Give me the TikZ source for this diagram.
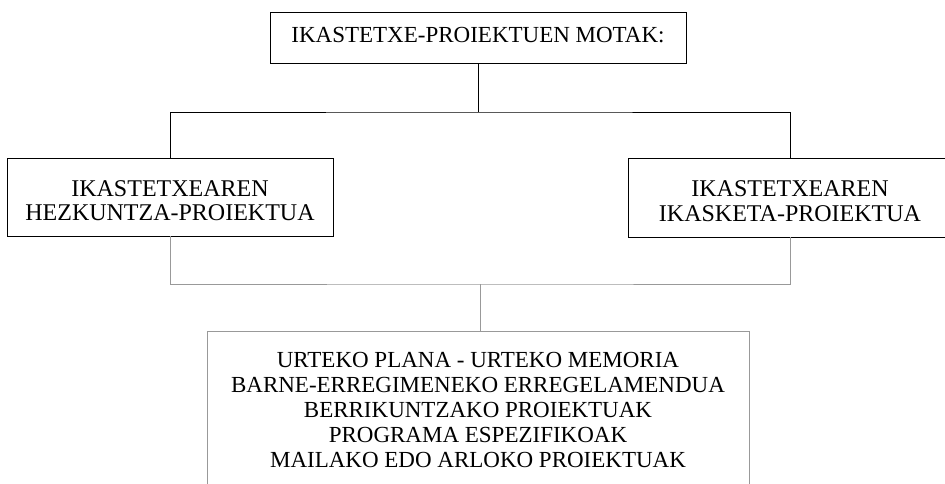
\documentclass[tikz,border=0pt]{standalone}
\usepackage{fontspec}
\setmainfont{Liberation Serif}
\begin{document}
\begin{tikzpicture}[x=1pt,y=-1pt,
  every node/.style={font=\fontsize{23}{25}\selectfont, align=center, inner sep=0pt},
  headbox/.style={draw=black, line width=0.9pt, rectangle},
  sidetext/.style={font=\fontsize{24}{24.5}\selectfont, yshift=-3.5pt},
  listbox/.style={draw=black!40, line width=0.5pt, rectangle},
  solidlink/.style={draw=black, line width=0.9pt},
  faintlink/.style={draw=black!40, line width=0.5pt}]
\useasboundingbox (0,0) rectangle (945,484);

% title box
\node[headbox, minimum width=416pt, minimum height=51pt, text depth=6pt]
  (top) at (478,37.5) {IKASTETXE-PROIEKTUEN MOTAK:};

% the two project boxes, text sitting slightly below centre
\node[headbox, minimum width=326pt, minimum height=78pt,
      label={[sidetext, name=hezlabel]center:{IKASTETXEAREN\\HEZKUNTZA-PROIEKTUA}}]
  (hez) at (170,197) {};
\node[headbox, minimum width=324pt, minimum height=79pt,
      label={[sidetext, name=ikaslabel]center:{IKASTETXEAREN\\IKASKETA-PROIEKTUA}}]
  (ikas) at (790,197.5) {};

% list of derived documents (runs past the lower edge)
\node[listbox, minimum width=542pt, minimum height=157pt, anchor=north]
  (list) at (478,331)
  {URTEKO PLANA - URTEKO MEMORIA\\
   BARNE-ERREGIMENEKO ERREGELAMENDUA\\
   BERRIKUNTZAKO PROIEKTUAK\\
   PROGRAMA ESPEZIFIKOAK\\
   MAILAKO EDO ARLOKO PROIEKTUAK};

% upper tree
\coordinate (split) at (478,112);
\draw[solidlink] (top.south) -- (split);
\draw[solidlink] (hez.north) |- (split) -| (ikas.north);

% lower tree
\coordinate (join) at (480,284);
\draw[faintlink] (hez.south) |- (join) -| (ikas.south);
\draw[faintlink] (join) -- (list.north -| join);
\end{tikzpicture}
\end{document}
